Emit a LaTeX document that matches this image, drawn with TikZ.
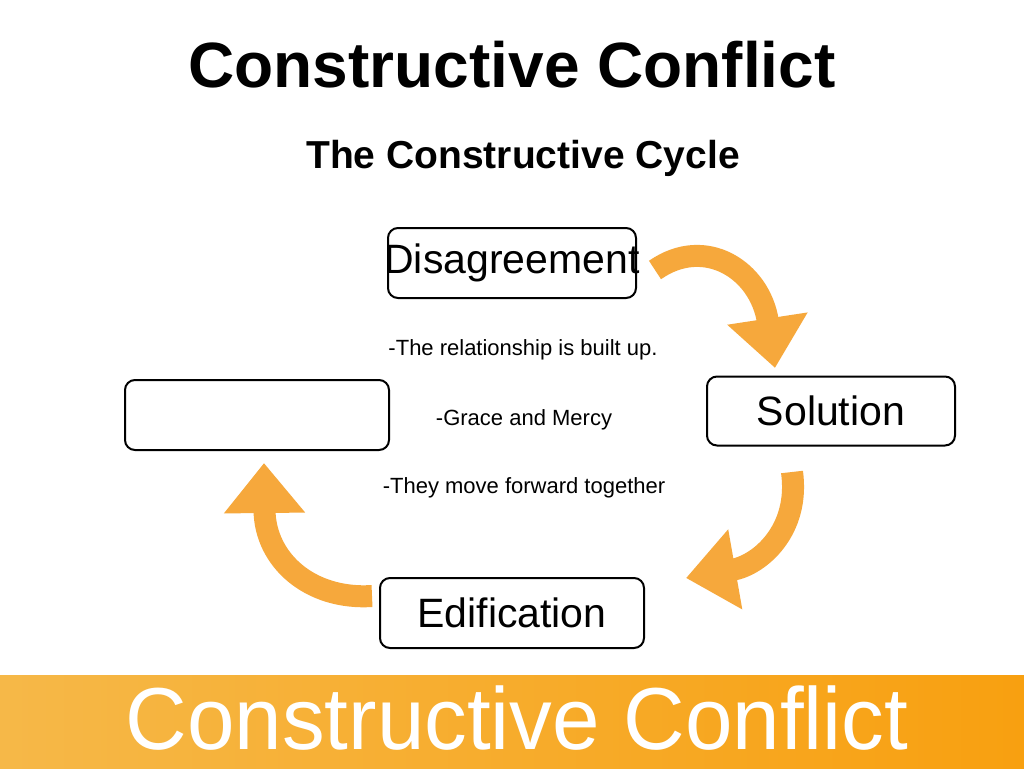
\documentclass[tikz,border=0pt]{standalone}
\usepackage{fontspec}
\setmainfont{Liberation Sans}
\usetikzlibrary{arrows.meta}
\definecolor{arr}{RGB}{246,168,60}
\definecolor{barA}{RGB}{246,184,72}
\definecolor{barB}{RGB}{248,160,16}
\tikzset{
 box/.style={draw, line width=2pt, rounded corners=10pt, inner sep=0pt},
 cyc/.style={line width=22pt, draw=arr, -{Triangle[length=50pt,width=78pt]}},
 small/.style={font=\fontsize{22}{25}\selectfont}
}
\begin{document}
\begin{tikzpicture}[x=1pt,y=-1pt]
\useasboundingbox (0,0) rectangle (1024,768);
\fill[white] (0,0) rectangle (1024,768);
\shade[left color=barA, right color=barB] (0,675) rectangle (1024,768);
\node[xscale=0.97, inner sep=0pt] (bar) at (517,718) {\color{white}\fontsize{88}{90}\selectfont Constructive Conflict};
\node (title) at (512,65) {\fontsize{64}{66}\selectfont\bfseries Constructive Conflict};
\node (sub) at (523,158) {\fontsize{39}{42}\selectfont\bfseries The Constructive Cycle};
\node[box, minimum width=248pt, minimum height=70pt] (dis) at (512,263) {};
\node (dist) at (512,263) {\fontsize{41}{44}\selectfont Disagreement};
\node[box, minimum width=248pt, minimum height=69pt] (sol) at (831,411) {\fontsize{41}{44}\selectfont Solution};
\node[box, minimum width=264pt, minimum height=70pt] (edi) at (512,613) {\fontsize{41}{44}\selectfont Edification};
\node[box, minimum width=264pt, minimum height=70pt] (lft) at (257,415) {};
\node[small] (t1) at (523,350) {-The relationship is built up.};
\node[small] (t2) at (524,420) {-Grace and Mercy};
\node[small] (t3) at (524,488) {-They move forward together};
\coordinate (a1s) at (655,270);
\coordinate (a1e) at (775,368);
\coordinate (a2s) at (792,472);
\coordinate (a2e) at (686,578);
\coordinate (a3s) at (372,596);
\coordinate (a3e) at (264,463);
\draw[cyc] (a1s) .. controls (705,235) and (760,270) .. (a1e);
\draw[cyc] (a2s) .. controls (800,530) and (760,565) .. (a2e);
\draw[cyc] (a3s) .. controls (310,600) and (265,560) .. (a3e);
\end{tikzpicture}
\end{document}
